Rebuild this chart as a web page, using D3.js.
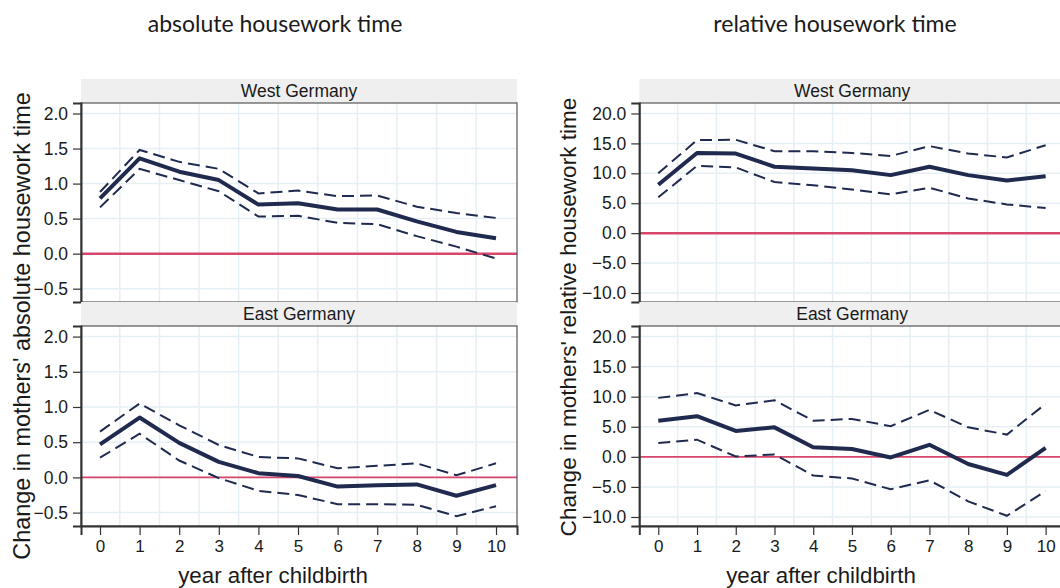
<!DOCTYPE html>
<html>
<head>
<meta charset="utf-8">
<script src="https://cdn.jsdelivr.net/npm/d3@7"></script>
<style>
  body { margin: 0; background: #fff; }
  text { font-family: "Liberation Sans", Arial, sans-serif; fill: #1a1a1a; }
  .title { font-family: Lato, "Open Sans", sans-serif; }
</style>
</head>
<body>
<script>
var years = [0, 1, 2, 3, 4, 5, 6, 7, 8, 9, 10];

// absolute housework time (hours)
var absWest      = [0.79, 1.36, 1.17, 1.05, 0.70, 0.72, 0.63, 0.63, 0.46, 0.31, 0.22];
var absWestHi    = [0.88, 1.48, 1.31, 1.21, 0.86, 0.90, 0.82, 0.83, 0.67, 0.58, 0.51];
var absWestLo    = [0.66, 1.21, 1.05, 0.89, 0.53, 0.54, 0.44, 0.42, 0.25, 0.10, -0.07];
var absEast      = [0.47, 0.85, 0.49, 0.22, 0.06, 0.02, -0.13, -0.11, -0.10, -0.26, -0.11];
var absEastHi    = [0.65, 1.05, 0.74, 0.46, 0.29, 0.27, 0.13, 0.165, 0.20, 0.03, 0.20];
var absEastLo    = [0.28, 0.62, 0.24, -0.01, -0.19, -0.25, -0.38, -0.38, -0.39, -0.55, -0.41];

// relative housework time (%)
var relWest      = [8.1, 13.4, 13.3, 11.1, 10.8, 10.5, 9.7, 11.1, 9.7, 8.8, 9.5];
var relWestHi    = [10.0, 15.55, 15.6, 13.7, 13.7, 13.4, 12.9, 14.55, 13.3, 12.65, 14.7];
var relWestLo    = [6.0, 11.25, 11.0, 8.55, 8.0, 7.3, 6.5, 7.6, 5.8, 4.8, 4.2];
var relEast      = [6.0, 6.75, 4.3, 4.9, 1.6, 1.3, -0.1, 2.0, -1.2, -3.0, 1.5];
var relEastHi    = [9.8, 10.6, 8.55, 9.4, 6.0, 6.3, 5.1, 7.8, 4.9, 3.7, 8.8];
var relEastLo    = [2.3, 2.85, 0.05, 0.4, -3.1, -3.6, -5.4, -3.9, -7.4, -9.8, -5.7];

var absTicks = [-0.5, 0, 0.5, 1, 1.5, 2];
var relTicks = [-10, -5, 0, 5, 10, 15, 20];
var regions = ["West Germany", "East Germany"];

var W = 1060, H = 588;
var navy = "#1f2a4e", red = "#d9466b", grid = "#e6eff3";

var svg = d3.select("body").append("svg")
    .attr("width", W)
    .attr("height", H);

var charts = [
  { title: "absolute housework time", titleX: 275,
    ytitle: "Change in mothers' absolute housework time", ytitleX: 22, ytitleY: 326, ytitleSize: 23.4,
    xtitleX: 273,
    xr: [81, 517], xd: [-0.48, 10.53], yd: [-0.69, 2.15], ticks: absTicks,
    series: [[absWest, absWestHi, absWestLo], [absEast, absEastHi, absEastLo]] },
  { title: "relative housework time", titleX: 835,
    ytitle: "Change in mothers' relative housework time", ytitleX: 568, ytitleY: 317, ytitleSize: 22.6,
    xtitleX: 821,
    xr: [639.3, 1065], xd: [-0.49, 10.5], yd: [-11.5, 21.75], ticks: relTicks,
    series: [[relWest, relWestHi, relWestLo], [relEast, relEastHi, relEastLo]] }
];

var panelsY = [ { strip: 79, top: 103, bottom: 302 }, { strip: 302, top: 326, bottom: 526 } ];

charts.forEach(function(c) {
  var x = d3.scaleLinear().domain(c.xd).range(c.xr);

  svg.append("text")
      .attr("class", "title")
      .attr("x", c.titleX)
      .attr("y", 32)
      .style("text-anchor", "middle")
      .style("font-size", "23px")
      .text(c.title);

  svg.append("text")
      .attr("transform", "translate(" + c.ytitleX + "," + c.ytitleY + ") rotate(-90)")
      .attr("dy", "0.35em")
      .style("text-anchor", "middle")
      .style("font-size", c.ytitleSize + "px")
      .text(c.ytitle);

  svg.append("text")
      .attr("x", c.xtitleX)
      .attr("y", 583)
      .style("text-anchor", "middle")
      .style("font-size", "22.3px")
      .text("year after childbirth");

  panelsY.forEach(function(p, i) {
    var y = d3.scaleLinear().domain(c.yd).range([p.bottom, p.top]);
    var g = svg.append("g");

    // strip
    g.append("rect")
        .attr("x", c.xr[0])
        .attr("y", p.strip)
        .attr("width", c.xr[1] - c.xr[0])
        .attr("height", p.top - p.strip)
        .attr("fill", "#efefef");
    g.append("text")
        .attr("x", (c.xr[0] + c.xr[1]) / 2)
        .attr("y", p.top - 6)
        .style("text-anchor", "middle")
        .style("font-size", "17.5px")
        .text(regions[i]);

    // grid
    g.selectAll(".hg").data(c.ticks).enter().append("line")
        .attr("x1", c.xr[0]).attr("x2", c.xr[1])
        .attr("y1", function(d) { return y(d); })
        .attr("y2", function(d) { return y(d); })
        .attr("stroke", grid).attr("stroke-width", 1.5);
    g.selectAll(".vg").data(years.slice(0, 10)).enter().append("line")
        .attr("x1", function(d) { return x(d + 0.5); })
        .attr("x2", function(d) { return x(d + 0.5); })
        .attr("y1", p.top).attr("y2", p.bottom)
        .attr("stroke", grid).attr("stroke-width", 1.5);

    // zero line
    g.append("line")
        .attr("x1", c.xr[0]).attr("x2", c.xr[1])
        .attr("y1", y(0)).attr("y2", y(0))
        .attr("stroke", red)
        .attr("stroke-width", i == 0 ? 2.5 : 1.6);

    // panel border
    g.append("rect")
        .attr("x", c.xr[0])
        .attr("y", p.top)
        .attr("width", c.xr[1] - c.xr[0])
        .attr("height", p.bottom - p.top)
        .attr("fill", "none")
        .attr("stroke", "#555")
        .attr("stroke-width", 1.2);

    // y axis
    var yAxis = g.append("g")
        .attr("transform", "translate(" + c.xr[0] + ",0)")
        .call(d3.axisLeft(y).tickValues(c.ticks).tickFormat(d3.format(".1f")).tickSize(8).tickPadding(5));
    yAxis.select(".domain").attr("stroke", "#333").attr("stroke-width", 2);
    yAxis.selectAll(".tick line").attr("stroke", "#333").attr("stroke-width", 1.2);
    yAxis.selectAll("text")
        .style("font-family", "'Liberation Sans', Arial, sans-serif")
        .style("font-size", "17.5px")
        .attr("fill", "#1a1a1a");

    if (i == 1) {
      var xAxis = g.append("g")
          .attr("transform", "translate(0," + p.bottom + ")")
          .call(d3.axisBottom(x).tickValues(years).tickFormat(d3.format("d")).tickSize(9).tickPadding(5));
      xAxis.select(".domain").attr("stroke", "#333").attr("stroke-width", 2);
      xAxis.selectAll(".tick line").attr("stroke", "#333").attr("stroke-width", 1.2);
      xAxis.selectAll("text")
          .style("font-family", "'Liberation Sans', Arial, sans-serif")
          .style("font-size", "17px")
          .attr("fill", "#1a1a1a");
    }

    // lines
    var line = d3.line()
        .x(function(d, k) { return x(years[k]); })
        .y(function(d) { return y(d); });
    var s = c.series[i];
    g.append("path").attr("d", line(s[1]))
        .attr("fill", "none").attr("stroke", navy).attr("stroke-width", 2)
        .attr("stroke-dasharray", "12,6");
    g.append("path").attr("d", line(s[2]))
        .attr("fill", "none").attr("stroke", navy).attr("stroke-width", 2)
        .attr("stroke-dasharray", "12,6");
    g.append("path").attr("d", line(s[0]))
        .attr("fill", "none").attr("stroke", navy).attr("stroke-width", 4)
        .attr("stroke-linejoin", "round");
  });
});
</script>
</body>
</html>
